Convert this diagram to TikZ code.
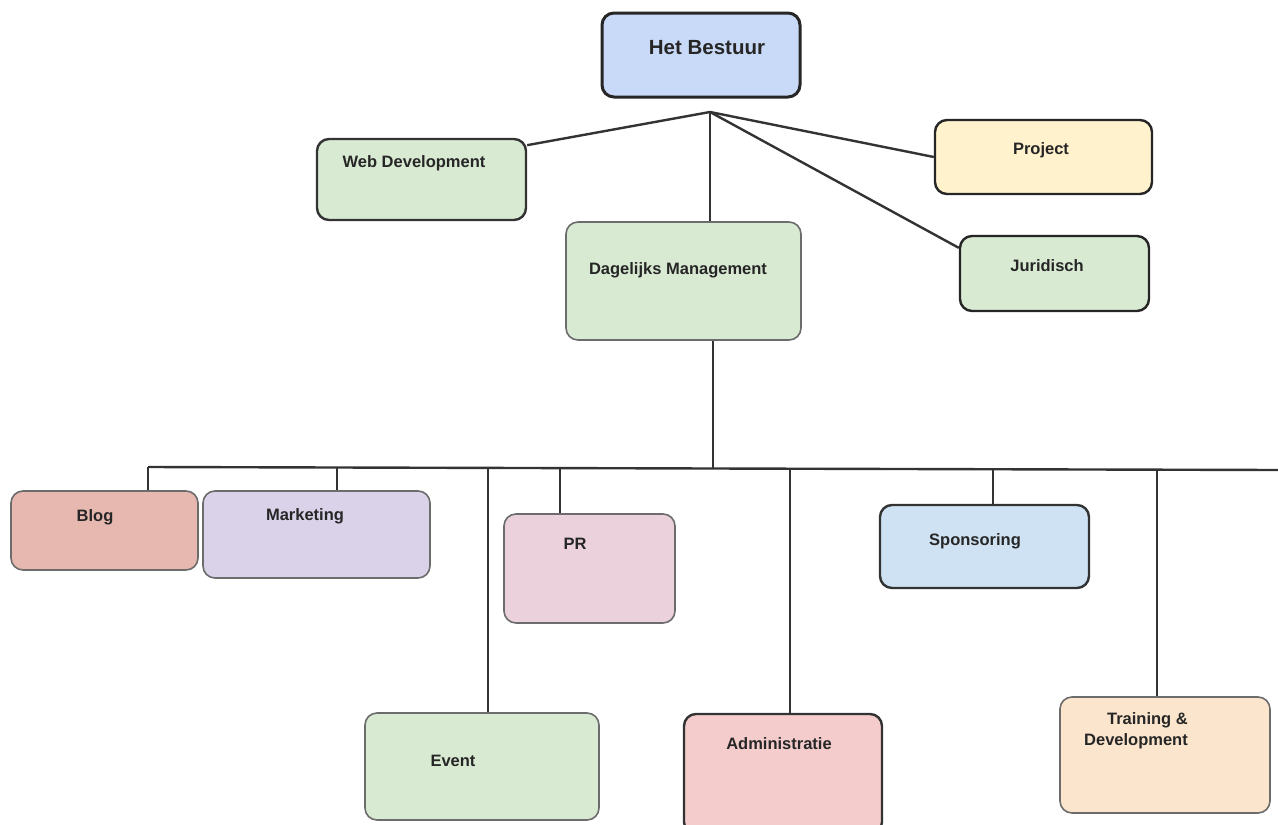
\documentclass[tikz,border=0pt]{standalone}
\usepackage{fontspec}
\setmainfont{Liberation Sans}
\begin{document}
\begin{tikzpicture}[x=1pt,y=-1pt,
  box/.style={draw=#1, rounded corners=12pt, inner sep=0pt, line width=2.4pt},
  soft/.style={draw=gray!85!black, rounded corners=12pt, inner sep=0pt, line width=1.6pt},
  lbl/.style={font=\bfseries\fontsize{16.5}{21}\selectfont, text=black!85, inner sep=0pt},
  conn/.style={line width=2.4pt, draw=black!80}]
\useasboundingbox (0,0) rectangle (1278,825);
\fill[white] (0,0) rectangle (1278,825);
% boxes
\node[box=black!85, line width=3pt, fill={rgb,255:red,201;green,218;blue,248}, minimum width=198pt, minimum height=84pt] (hb) at (701,55) {};
\node[box=black!80, fill={rgb,255:red,217;green,234;blue,211}, minimum width=209pt, minimum height=81pt] (web) at (421.5,179.5) {};
\node[box=black!85, fill={rgb,255:red,255;green,242;blue,204}, minimum width=217pt, minimum height=74pt] (proj) at (1043.5,157) {};
\node[soft, fill={rgb,255:red,217;green,234;blue,211}, minimum width=235pt, minimum height=118pt] (dm) at (683.5,281) {};
\node[box=black!85, fill={rgb,255:red,217;green,234;blue,211}, minimum width=189pt, minimum height=75pt] (jur) at (1054.5,273.5) {};
\node[soft, fill={rgb,255:red,230;green,184;blue,175}, minimum width=187pt, minimum height=79pt] (blog) at (104.5,530.5) {};
\node[soft, fill={rgb,255:red,217;green,210;blue,233}, minimum width=227pt, minimum height=87pt] (mkt) at (316.5,534.5) {};
\node[soft, fill={rgb,255:red,234;green,209;blue,220}, minimum width=171pt, minimum height=109pt] (pr) at (589.5,568.5) {};
\node[box=black!80, fill={rgb,255:red,207;green,226;blue,243}, minimum width=209pt, minimum height=83pt] (spon) at (984.5,546.5) {};
\node[soft, fill={rgb,255:red,217;green,234;blue,211}, minimum width=234pt, minimum height=107pt] (event) at (482,766.5) {};
\node[box=black!80, fill={rgb,255:red,244;green,204;blue,204}, minimum width=198pt, minimum height=120pt] (adm) at (783,774) {};
\node[soft, fill={rgb,255:red,252;green,229;blue,205}, minimum width=210pt, minimum height=116pt] (train) at (1165,755) {};
% labels
\node[lbl, font=\bfseries\fontsize{20.5}{24}\selectfont] (thb) at (707,48) {Het Bestuur};
\node[lbl] (tweb) at (414,163) {Web Development};
\node[lbl] (tproj) at (1041,150) {Project};
\node[lbl] (tdm) at (678,270) {Dagelijks Management};
\node[lbl] (tjur) at (1047,266) {Juridisch};
\node[lbl] (tblog) at (95,517) {Blog};
\node[lbl] (tmkt) at (305,516) {Marketing};
\node[lbl] (tpr) at (575,544) {PR};
\node[lbl] (tspon) at (975,541) {Sponsoring};
\node[lbl] (tevent) at (453,761) {Event};
\node[lbl] (tadm) at (779,744) {Administratie};
\node[lbl, align=right, anchor=east] (ttrain) at (1188,731) {Training \&\\Development};
% connectors
\coordinate (hub) at (710,112);
\draw[conn] (hub) -- (web.18);
\draw[conn] (hub) -- (proj.west);
\draw[conn] (hub) -- (jur.165);
\draw[conn] (hub) -- (hub |- dm.north);
\coordinate (j) at (713,468);
\draw[conn] (j |- dm.south) -- (j);
\coordinate (busL) at (148,467);
\coordinate (busR) at (1278,470);
\draw[conn] (busL) -- (busR);
\coordinate (d1) at (148,467);
\coordinate (d2) at (337,467.5);
\coordinate (d3) at (488,468);
\coordinate (d4) at (560,468);
\coordinate (d5) at (790,468.5);
\coordinate (d6) at (993,469);
\coordinate (d7) at (1157,469.5);
\draw[conn] (d1) -- (d1 |- blog.north);
\draw[conn] (d2) -- (d2 |- mkt.north);
\draw[conn] (d3) -- (d3 |- event.north);
\draw[conn] (d4) -- (d4 |- pr.north);
\draw[conn] (d5) -- (d5 |- adm.north);
\draw[conn] (d6) -- (d6 |- spon.north);
\draw[conn] (d7) -- (d7 |- train.north);
\end{tikzpicture}
\end{document}
